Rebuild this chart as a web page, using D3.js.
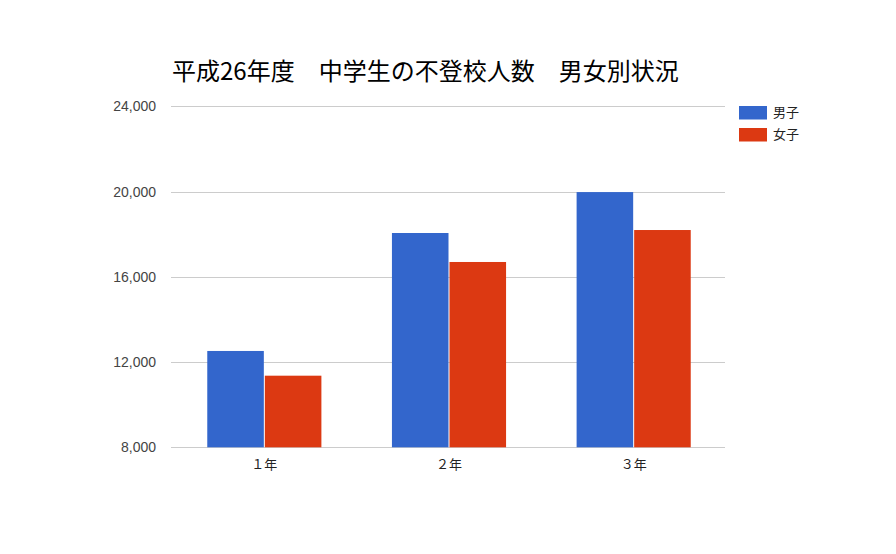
<!DOCTYPE html>
<html>
<head>
<meta charset="utf-8">
<title>平成26年度 中学生の不登校人数</title>
<script src="https://d3js.org/d3.v7.min.js"></script>
<style>
    body { margin: 0; background: #fff; }
    svg { display: block; }
</style>
</head>
<body>
<svg width="896" height="554"></svg>
<script>
    // data
    var grades = ["１年", "２年", "３年"];
    var series = ["男子", "女子"];
    var boys = [12520, 18055, 19975];
    var girls = [11360, 16695, 18195];
    var yTicks = [8000, 12000, 16000, 20000, 24000];
    var colors = ["#3366cc", "#dc3912"];

    var svg = d3.select("svg"),
        plotLeft = 171, plotRight = 725, plotTop = 106.3, plotBottom = 447.3;

    var x0 = d3.scaleBand().domain(grades).range([plotLeft + 1, plotRight + 1])
               .paddingInner(0.382).paddingOuter(0.191);
    var x1 = d3.scaleBand().domain(series).range([0, x0.bandwidth()]);
    var y = d3.scaleLinear().domain([8000, 24000]).range([plotBottom, plotTop]);

    svg.append("text")
       .attr("x", 172)
       .attr("y", 80)
       .attr("font-family", "'Noto Sans CJK JP', sans-serif")
       .attr("font-size", "24px")
       .attr("fill", "#000")
       .text("平成26年度　中学生の不登校人数　男女別状況");

    // grid
    svg.append("g").selectAll("line")
       .data(yTicks)
       .enter().append("line")
       .attr("x1", plotLeft).attr("x2", plotRight)
       .attr("y1", function(d) { return Math.round(y(d)) + 0.5; })
       .attr("y2", function(d) { return Math.round(y(d)) + 0.5; })
       .attr("stroke", "#cccccc");

    var yAxis = svg.append("g")
       .attr("transform", "translate(" + (plotLeft - 15) + ",0)")
       .call(d3.axisLeft(y).tickValues(yTicks).tickSize(0).tickPadding(0)
               .tickFormat(d3.format(",")));
    yAxis.select(".domain").remove();
    yAxis.selectAll("text")
         .attr("font-family", "'Liberation Sans', Arial, sans-serif")
         .attr("font-size", "14px")
         .attr("fill", "#444");

    var rows = grades.map(function(g, i) { return {grade: g, values: [boys[i], girls[i]]}; });

    svg.append("g").selectAll("g")
       .data(rows)
       .enter().append("g")
       .attr("transform", function(d) { return "translate(" + x0(d.grade) + ",0)"; })
       .selectAll("rect")
       .data(function(d) { return d.values.map(function(v, j) { return {s: series[j], v: v, j: j}; }); })
       .enter().append("rect")
       .attr("x", function(d) { return x1(d.s) + (d.j ? 0.5 : 0); })
       .attr("y", function(d) { return y(d.v); })
       .attr("width", x1.bandwidth() - 0.5)
       .attr("height", function(d) { return plotBottom - y(d.v); })
       .attr("fill", function(d) { return colors[d.j]; });

    var xAxis = svg.append("g")
       .attr("transform", "translate(0," + plotBottom + ")")
       .call(d3.axisBottom(x0).tickSize(0).tickPadding(12));
    xAxis.select(".domain").remove();
    xAxis.selectAll("text")
         .attr("font-family", "'Noto Sans CJK JP', sans-serif")
         .attr("font-size", "13px")
         .attr("fill", "#222");

    var legend = svg.append("g").selectAll("g")
       .data(series)
       .enter().append("g")
       .attr("transform", function(d, i) { return "translate(739," + (106 + i * 22) + ")"; });
    legend.append("rect")
       .attr("width", 28).attr("height", 13.5)
       .attr("fill", function(d, i) { return colors[i]; });
    legend.append("text")
       .attr("x", 34).attr("y", 11)
       .attr("font-family", "'Noto Sans CJK JP', sans-serif")
       .attr("font-size", "13px")
       .attr("fill", "#222")
       .text(function(d) { return d; });
</script>
</body>
</html>
